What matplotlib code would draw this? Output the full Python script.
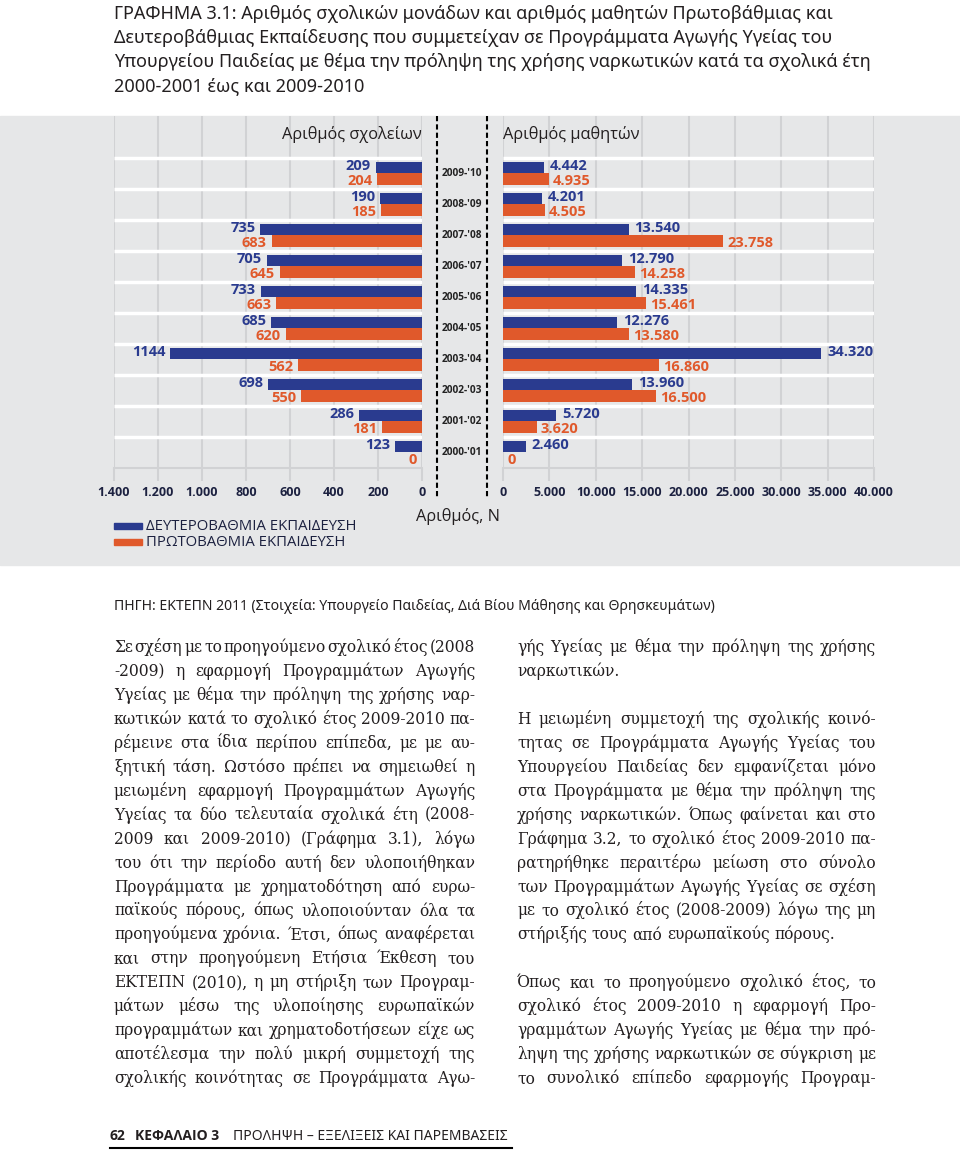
import matplotlib
matplotlib.use('Agg')
import matplotlib.pyplot as plt
from matplotlib import font_manager
from matplotlib.patches import Rectangle
from matplotlib.lines import Line2D
from matplotlib.font_manager import FontProperties

W, H = 960, 1151

# data, top row first
years = ["2009-'10", "2008-'09", "2007-'08", "2006-'07", "2005-'06",
         "2004-'05", "2003-'04", "2002-'03", "2001-'02", "2000-'01"]
schools_secondary = [209, 190, 735, 705, 733, 685, 1144, 698, 286, 123]
schools_primary = [204, 185, 683, 645, 663, 620, 562, 550, 181, 0]
students_secondary = [4442, 4201, 13540, 12790, 14335, 12276, 34320, 13960, 5720, 2460]
students_primary = [4935, 4505, 23758, 14258, 15461, 13580, 16860, 16500, 3620, 0]

school_ticks = [0, 200, 400, 600, 800, 1000, 1200, 1400]
student_ticks = [0, 5000, 10000, 15000, 20000, 25000, 30000, 35000, 40000]

title_lines = [
    "ΓΡΑΦΗΜΑ 3.1: Αριθμός σχολικών μονάδων και αριθμός μαθητών Πρωτοβάθμιας και",
    "Δευτεροβάθμιας Εκπαίδευσης που συμμετείχαν σε Προγράμματα Αγωγής Υγείας του",
    "Υπουργείου Παιδείας με θέμα την πρόληψη της χρήσης ναρκωτικών κατά τα σχολικά έτη",
    "2000-2001 έως και 2009-2010",
]
source = "ΠΗΓΗ: ΕΚΤΕΠΝ 2011 (Στοιχεία: Υπουργείο Παιδείας, Διά Βίου Μάθησης και Θρησκευμάτων)"

left_col = [
    "Σε σχέση με το προηγούμενο σχολικό έτος (2008",
    "-2009) η εφαρμογή Προγραμμάτων Αγωγής",
    "Υγείας με θέμα την πρόληψη της χρήσης ναρ-",
    "κωτικών κατά το σχολικό έτος 2009-2010 πα-",
    "ρέμεινε στα ίδια περίπου επίπεδα, με με αυ-",
    "ξητική τάση. Ωστόσο πρέπει να σημειωθεί η",
    "μειωμένη εφαρμογή Προγραμμάτων Αγωγής",
    "Υγείας τα δύο τελευταία σχολικά έτη (2008-",
    "2009 και 2009-2010) (Γράφημα 3.1), λόγω",
    "του ότι την περίοδο αυτή δεν υλοποιήθηκαν",
    "Προγράμματα με χρηματοδότηση από ευρω-",
    "παϊκούς πόρους, όπως υλοποιούνταν όλα τα",
    "προηγούμενα χρόνια. Έτσι, όπως αναφέρεται",
    "και στην προηγούμενη Ετήσια Έκθεση του",
    "ΕΚΤΕΠΝ (2010), η μη στήριξη των Προγραμ-",
    "μάτων μέσω της υλοποίησης ευρωπαϊκών",
    "προγραμμάτων και χρηματοδοτήσεων είχε ως",
    "αποτέλεσμα την πολύ μικρή συμμετοχή της",
    "σχολικής κοινότητας σε Προγράμματα Αγω-",
]
right_paras = [
    ["γής Υγείας με θέμα την πρόληψη της χρήσης",
     "ναρκωτικών."],
    ["Η μειωμένη συμμετοχή της σχολικής κοινό-",
     "τητας σε Προγράμματα Αγωγής Υγείας του",
     "Υπουργείου Παιδείας δεν εμφανίζεται μόνο",
     "στα Προγράμματα με θέμα την πρόληψη της",
     "χρήσης ναρκωτικών. Όπως φαίνεται και στο",
     "Γράφημα 3.2, το σχολικό έτος 2009-2010 πα-",
     "ρατηρήθηκε περαιτέρω μείωση στο σύνολο",
     "των Προγραμμάτων Αγωγής Υγείας σε σχέση",
     "με το σχολικό έτος (2008-2009) λόγω της μη",
     "στήριξής τους από ευρωπαϊκούς πόρους."],
    ["Όπως και το προηγούμενο σχολικό έτος, το",
     "σχολικό έτος 2009-2010 η εφαρμογή Προ-",
     "γραμμάτων Αγωγής Υγείας με θέμα την πρό-",
     "ληψη της χρήσης ναρκωτικών σε σύγκριση με",
     "το συνολικό επίπεδο εφαρμογής Προγραμ-"],
]

blue = '#2a3b8f'
orange = '#e0592b'
panel = '#e6e7e8'
grid = '#d1d2d4'
ink = '#1c2140'
black = '#231f20'


# pick a sans family that really has a bold face installed
def heavy(f):
    w = f.weight
    if isinstance(w, str):
        w = font_manager.weight_dict.get(w, 400)
    return w >= 600


bold_names = {f.name for f in font_manager.fontManager.ttflist if heavy(f)}
sans = next((n for n in ['Open Sans', 'Roboto', 'Noto Sans', 'Inter', 'Lato']
             if n in bold_names), 'DejaVu Sans')
chart_family = [sans, 'DejaVu Sans']

plt.rcParams['font.family'] = chart_family

fig = plt.figure(figsize=(W / 100, H / 100), dpi=100)


def fx(x):
    return x / W


def fy(y):
    return 1 - y / H


def rect(x0, y0, x1, y1):
    return [fx(x0), fy(y1), (x1 - x0) / W, (y1 - y0) / H]


def dots(v):
    return f'{v:,}'.replace(',', '.')


# grey panel behind the chart
fig.patches.append(Rectangle((0, fy(565)), 1, fy(116) - fy(565), transform=fig.transFigure,
                             color=panel, zorder=-5))

n = len(years)
rows = list(range(n))
top = -42 / 31
off, h = 0.1855, 0.371
y_sec = [r + 0.5 - off for r in rows]
y_pri = [r + 0.5 + off for r in rows]

ax_l = fig.add_axes(rect(114, 116, 422, 468))
ax_m = fig.add_axes(rect(422, 116, 503, 468))
ax_r = fig.add_axes(rect(503, 116, 874, 468))

for ax in (ax_l, ax_m, ax_r):
    ax.set_ylim(n, top)
    ax.patch.set_alpha(0)
    ax.set_yticks([])
    for s in ax.spines.values():
        s.set_visible(False)

for ax, ticks, sec, pri in ((ax_l, school_ticks, schools_secondary, schools_primary),
                            (ax_r, student_ticks, students_secondary, students_primary)):
    ax.set_xticks(ticks)
    ax.grid(axis='x', color=grid, lw=1.5)
    ax.set_axisbelow(True)
    ax.spines['bottom'].set_visible(True)
    ax.spines['bottom'].set_color(grid)
    ax.spines['bottom'].set_linewidth(1.5)
    ax.tick_params(axis='x', length=9, width=1.5, color=grid, pad=4,
                   labelsize=9, labelcolor=ink)
    ax.barh(y_sec, sec, height=h, color=blue, zorder=3)
    ax.barh(y_pri, pri, height=h, color=orange, zorder=3)

ax_l.set_xlim(max(school_ticks), 0)
ax_r.set_xlim(0, max(student_ticks))
ax_l.set_xticklabels([dots(t) for t in school_ticks], fontweight='bold')
ax_r.set_xticklabels([dots(t) for t in student_ticks], fontweight='bold')
ax_l.hlines(rows, 0, max(school_ticks), color='white', lw=2.5, zorder=2)
ax_r.hlines(rows, 0, max(student_ticks), color='white', lw=2.5, zorder=2)

lab = dict(va='center', fontsize=10.5, fontweight='bold', textcoords='offset pixels')
for y, v in zip(y_sec, schools_secondary):
    ax_l.annotate(str(v), (v, y), xytext=(-5, 2), ha='right', color=blue, **lab)
for y, v in zip(y_pri, schools_primary):
    ax_l.annotate(str(v), (v, y), xytext=(-5, -2), ha='right', color=orange, **lab)
for y, v in zip(y_sec, students_secondary):
    ax_r.annotate(dots(v), (v, y), xytext=(6, 2), ha='left', color=blue, **lab)
for y, v in zip(y_pri, students_primary):
    ax_r.annotate(dots(v), (v, y), xytext=(4, -2), ha='left', color=orange, **lab)

ax_l.text(0, -0.742, 'Αριθμός σχολείων', ha='right', va='center', fontsize=11.8, color=black)
ax_r.text(0, -0.742, 'Αριθμός μαθητών', ha='left', va='center', fontsize=11.8, color=black)

# middle band with year labels and dashed guides
ax_m.set_xlim(0, 1)
ax_m.set_xticks([])
for x in (15 / 81, 65 / 81):
    ax_m.plot([x, x], [top, 10.94], color='black', lw=1.5, ls=(0, (2.5, 1.5)), clip_on=False)
for r in rows:
    ax_m.text(0.494, r + 0.5, years[r], ha='center', va='center', fontsize=7.3,
              fontweight='bold', color='#222222')

fig.text(fx(458), fy(517), 'Αριθμός, Ν', ha='center', va='center', fontsize=11.8, color=black)

# legend
for yc, col, txt in ((526, blue, 'ΔΕΥΤΕΡΟΒΑΘΜΙΑ ΕΚΠΑΙΔΕΥΣΗ'),
                     (542, orange, 'ΠΡΩΤΟΒΑΘΜΙΑ ΕΚΠΑΙΔΕΥΣΗ')):
    fig.patches.append(Rectangle((fx(114), fy(yc + 3)), 28 / W, 6 / H,
                                 transform=fig.transFigure, color=col))
    fig.text(fx(146), fy(yc), txt, ha='left', va='center', fontsize=10.7, color=ink)

# title and source
head = ['Noto Sans', 'DejaVu Sans']
for i, line in enumerate(title_lines):
    fig.text(fx(114), fy(14 + 24.2 * i), line, ha='left', va='center', fontsize=13,
             color=black, family=head)
fig.text(fx(114), fy(607), source, ha='left', va='center', fontsize=10.1, color=black, family=head)

# body text, justified by hand
renderer = fig.canvas.get_renderer()
body_font = FontProperties(family=['DejaVu Serif'], size=11.2)


def text_w(s):
    return renderer.get_text_width_height_descent(s, body_font, ismath=False)[0]


space_w = text_w('a a') - 2 * text_w('a')


def put_line(line, x0, x1, y, justify):
    words = line.split()
    ws = [text_w(w) for w in words]
    gap = space_w
    if justify and len(words) > 1:
        gap = (x1 - x0 - sum(ws)) / (len(words) - 1)
    x = x0
    for w, ww in zip(words, ws):
        fig.text(fx(x), fy(y), w, fontproperties=body_font, ha='left', va='baseline', color=black)
        x += ww + gap


pitch = 23.95
base0 = 652
for i, line in enumerate(left_col):
    put_line(line, 114, 475, base0 + pitch * i, True)

row = 0
for p, para in enumerate(right_paras):
    for j, line in enumerate(para):
        last = j == len(para) - 1 and p < len(right_paras) - 1
        put_line(line, 517, 876, base0 + pitch * row, not last)
        row += 1
    row += 1

# footer
fig.text(fx(110), fy(1136), '62', ha='left', va='center', fontsize=10, fontweight='bold', color=black)
fig.text(fx(135), fy(1136), 'ΚΕΦΑΛΑΙΟ 3', ha='left', va='center', fontsize=10, fontweight='bold', color=black)
fig.text(fx(233), fy(1136), 'ΠΡΟΛΗΨΗ – ΕΞΕΛΙΞΕΙΣ ΚΑΙ ΠΑΡΕΜΒΑΣΕΙΣ', ha='left', va='center',
         fontsize=10, color=black, family=head)
fig.add_artist(Line2D([fx(110), fx(512)], [fy(1148), fy(1148)], lw=1.5, color='black'))

fig.savefig('out.png', dpi=100)
